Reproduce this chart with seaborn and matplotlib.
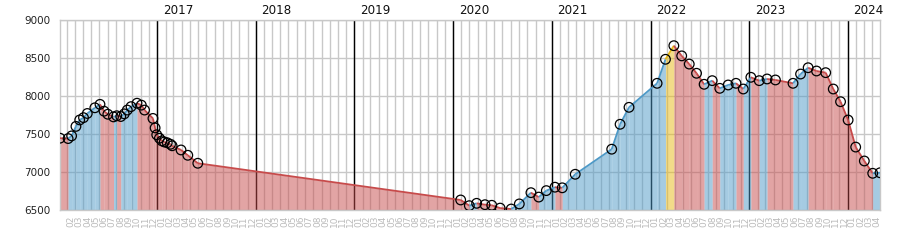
import numpy as np
import pandas as pd
import matplotlib
matplotlib.use("Agg")
import matplotlib.pyplot as plt
import matplotlib.dates as mdates
import matplotlib.transforms as mtransforms
import seaborn as sns

# ---- data ----
dates = [
    "2016-01-07", "2016-02-06", "2016-02-19", "2016-03-06", "2016-03-20", "2016-04-03",
    "2016-04-17", "2016-05-15", "2016-06-03", "2016-06-18", "2016-07-02", "2016-07-23",
    "2016-08-04", "2016-08-19", "2016-09-01", "2016-09-12", "2016-09-26", "2016-10-18",
    "2016-11-03", "2016-11-15", "2016-12-16", "2016-12-24", "2016-12-30", "2017-01-09",
    "2017-01-18", "2017-01-27", "2017-02-07", "2017-02-19", "2017-02-25", "2017-03-30",
    "2017-04-24", "2017-05-31",
    "2020-01-29", "2020-03-01", "2020-03-28", "2020-04-28", "2020-05-23", "2020-06-23",
    "2020-08-03", "2020-09-02", "2020-10-15", "2020-11-13", "2020-12-11", "2021-01-12",
    "2021-02-08", "2021-03-28",
    "2021-08-10", "2021-09-10", "2021-10-13", "2022-01-25", "2022-02-25", "2022-03-28",
    "2022-04-26", "2022-05-24", "2022-06-20", "2022-07-18", "2022-08-17", "2022-09-14",
    "2022-10-15", "2022-11-13", "2022-12-10", "2023-01-07", "2023-02-07", "2023-03-08",
    "2023-04-08", "2023-06-12", "2023-07-10", "2023-08-07", "2023-09-07", "2023-10-11",
    "2023-11-08", "2023-12-05", "2024-01-02", "2024-01-30", "2024-03-02", "2024-04-02",
    "2024-04-29",
]
values = [
    7445, 7440, 7475, 7600, 7685, 7715,
    7770, 7845, 7890, 7800, 7760, 7725,
    7740, 7730, 7765, 7815, 7860, 7905,
    7880, 7815, 7705, 7580, 7490, 7445,
    7410, 7395, 7385, 7365, 7345, 7290,
    7220, 7115,
    6632, 6557, 6588, 6570, 6562, 6525,
    6513, 6580, 6728, 6670, 6755, 6800,
    6792, 6970,
    7300, 7628, 7851, 8167, 8483, 8662,
    8528, 8420, 8299, 8154, 8202, 8101,
    8145, 8167, 8092, 8246, 8202, 8224,
    8211, 8167, 8289, 8372, 8329, 8307,
    8092, 7925, 7684, 7328, 7145, 6983,
    6990,
]
years = [2017, 2018, 2019, 2020, 2021, 2022, 2023, 2024]
y_ticks = [6500, 7000, 7500, 8000, 8500, 9000]

RED = "#c74b4b"
BLUE = "#4d99c7"
YELLOW = "#e7b915"
GRID = "#c8c8c8"

sns.set_style("white")
plt.rcParams["font.family"] = ["DejaVu Sans"]

df = pd.DataFrame({"date": pd.to_datetime(dates), "value": values})
xd = df["date"].values
yv = df["value"].values

fig = plt.figure(figsize=(9, 2.5), dpi=100)
ax = fig.add_axes([60 / 900, 40 / 250, 820 / 900, 190 / 250])

# markers (seaborn)
sns.scatterplot(data=df, x="date", y="value", marker="o", s=48,
                facecolor="none", edgecolor="black", linewidth=0.9,
                zorder=4, ax=ax, legend=False)

# coloured segments and fills
imax = int(np.argmax(yv))
ybase = y_ticks[0]
for i in range(len(yv) - 1):
    if i + 1 == imax:
        c = YELLOW
    elif yv[i + 1] > yv[i]:
        c = BLUE
    else:
        c = RED
    ax.fill_between(xd[i:i + 2], yv[i:i + 2], ybase, color=c, alpha=0.5,
                    linewidth=0, zorder=1)
    ax.plot(xd[i:i + 2], yv[i:i + 2], color=c, lw=1.3, zorder=3,
            solid_capstyle="butt")

# year lines and labels
blend = mtransforms.blended_transform_factory(ax.transData, ax.transAxes)
for yr in years:
    d = pd.Timestamp(f"{yr}-01-01")
    ax.axvline(d, color="black", lw=1, zorder=0.8)
    ax.annotate(str(yr), xy=(mdates.date2num(d), 1.0), xycoords=blend,
                xytext=(4, 2), textcoords="offset points", ha="left",
                va="bottom", fontsize=8.6, color="#111111")

# axes formatting
ax.set_xlim(df["date"].iloc[0], df["date"].iloc[-1])
ax.set_ylim(y_ticks[0], y_ticks[-1])
ax.set_yticks(y_ticks)
ax.set_yticklabels([str(v) for v in y_ticks])

mticks = pd.date_range("2016-02-01", "2024-04-01", freq="MS")
ax.set_xticks(mticks)
ax.set_xticklabels([t.strftime("%m") for t in mticks], rotation=90,
                   ha="left", va="top")
ax.tick_params(axis="x", length=0, pad=4, labelsize=6.5, labelcolor="#bbbbbb")
ax.tick_params(axis="y", length=0, pad=7, labelsize=7.5, labelcolor="#222222")

ax.set_axisbelow(True)
ax.grid(True, color=GRID, lw=1, zorder=0)
for s in ax.spines.values():
    s.set_color(GRID)
    s.set_linewidth(1)
ax.set_xlabel("")
ax.set_ylabel("")

fig.savefig("out.png", dpi=100)
